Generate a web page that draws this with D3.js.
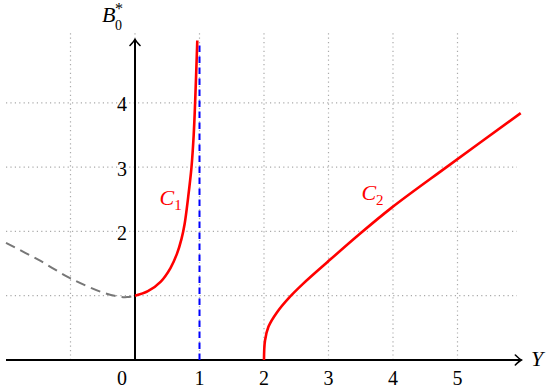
<!DOCTYPE html>
<html>
<head>
<meta charset="utf-8">
<script src="https://cdn.jsdelivr.net/npm/d3@7"></script>
<style>
  html, body { margin: 0; padding: 0; background: #fff; }
  svg { display: block; }
  text { font-family: "Liberation Serif", "Times New Roman", serif; }
</style>
</head>
<body>
<svg id="chart" width="550" height="388"></svg>
<script>
// values
var curveC1 = [[0, 1], [0.2, 1.07], [0.4, 1.22], [0.55, 1.43], [0.65, 1.65], [0.72, 1.88],
               [0.77, 2.12], [0.824, 2.53], [0.876, 3.0], [0.91, 3.5], [0.932, 4.0], [0.966, 4.97]];
var curveC2 = [[2, 0], [2.015, 0.3], [2.07, 0.52], [2.2, 0.74], [2.39, 0.97], [2.6, 1.18],
               [2.98, 1.52], [3.46, 1.94], [3.98, 2.37], [4.83, 3.0], [5.98, 3.84]];
var curveDashed = [[-2, 1.82], [-1.5, 1.56], [-1.0, 1.27], [-0.5, 1.05], [-0.25, 0.985], [-0.12, 0.978], [0, 1.0]];
var asymptoteX = 1;
var asymptoteTop = 4.96;
var gridX = [-1, 0, 1, 2, 3, 4, 5];
var gridY = [1, 2, 3, 4];
var xTicks = [0, 1, 2, 3, 4, 5];
var yTicks = [2, 3, 4];
var labelC1 = [0.38, 2.41];
var labelC2 = [3.51, 2.49];

var svg = d3.select('#chart');

var x = d3.scaleLinear().domain([-2, 6]).range([6, 522]);
var y = d3.scaleLinear().domain([0, 5]).range([360, 38.5]);

// arrow head
svg.append('defs').append('marker')
    .attr('id', 'arrow')
    .attr('viewBox', '-8 -6 10 12')
    .attr('refX', 0).attr('refY', 0)
    .attr('markerWidth', 10).attr('markerHeight', 12)
    .attr('markerUnits', 'userSpaceOnUse')
    .attr('orient', 'auto')
  .append('path')
    .attr('d', 'M-6,-5 Q-2,-1 0,0 Q-2,1 -6,5')
    .attr('fill', 'none')
    .attr('stroke', '#000')
    .attr('stroke-width', 1.6)
    .attr('stroke-linecap', 'round');

// grid
var grid = svg.append('g')
    .attr('stroke', '#aaa')
    .attr('stroke-width', 1.2)
    .attr('stroke-dasharray', '1.2,3.2');

grid.selectAll('line.gx').data(gridX).enter().append('line')
    .attr('class', 'gx')
    .attr('x1', function(d){ return x(d); }).attr('x2', function(d){ return x(d); })
    .attr('y1', y(0)).attr('y2', y(5.08));

grid.selectAll('line.gy').data(gridY).enter().append('line')
    .attr('class', 'gy')
    .attr('x1', x(-2)).attr('x2', x(5.92))
    .attr('y1', function(d){ return y(d); }).attr('y2', function(d){ return y(d); });

// axes
svg.append('line')
    .attr('x1', x(-2)).attr('x2', x(5.99))
    .attr('y1', y(0)).attr('y2', y(0))
    .attr('stroke', '#000').attr('stroke-width', 2)
    .attr('marker-end', 'url(#arrow)');

svg.append('line')
    .attr('x1', x(0)).attr('x2', x(0))
    .attr('y1', y(0)).attr('y2', y(4.985))
    .attr('stroke', '#000').attr('stroke-width', 2)
    .attr('marker-end', 'url(#arrow)');

// tick labels
svg.selectAll('text.xt').data(xTicks).enter().append('text')
    .attr('class', 'xt')
    .attr('x', function(d){ return d === 0 ? x(d) - 8 : x(d); })
    .attr('y', 385)
    .attr('text-anchor', function(d){ return d === 0 ? 'end' : 'middle'; })
    .attr('font-size', 20)
    .text(function(d){ return d; });

svg.selectAll('text.yt').data(yTicks).enter().append('text')
    .attr('class', 'yt')
    .attr('x', x(0) - 8)
    .attr('y', function(d){ return y(d) + 8.5; })
    .attr('text-anchor', 'end')
    .attr('font-size', 20)
    .text(function(d){ return d; });

// axis titles
svg.append('text')
    .attr('x', 531).attr('y', 366)
    .attr('font-size', 22).attr('font-style', 'italic')
    .text('Y');

svg.append('text')
    .attr('x', 102).attr('y', 22)
    .attr('font-size', 22).attr('font-style', 'italic')
    .text('B');
svg.append('text')
    .attr('x', 115).attr('y', 30)
    .attr('font-size', 14)
    .text('0');
svg.append('text')
    .attr('x', 115).attr('y', 13.5)
    .attr('font-size', 16)
    .text('*');

// curves
var line = d3.line()
    .x(function(d){ return x(d[0]); })
    .y(function(d){ return y(d[1]); })
    .curve(d3.curveCatmullRom.alpha(0.5));

svg.append('path')
    .datum(curveDashed)
    .attr('d', line)
    .attr('fill', 'none')
    .attr('stroke', '#777')
    .attr('stroke-width', 2)
    .attr('stroke-dasharray', '10,6');

svg.append('line')
    .attr('x1', x(asymptoteX)).attr('x2', x(asymptoteX))
    .attr('y1', y(0)).attr('y2', y(asymptoteTop))
    .attr('stroke', '#0000ff')
    .attr('stroke-width', 2)
    .attr('stroke-dasharray', '6.5,4.5');

svg.append('path')
    .datum(curveC1)
    .attr('d', line)
    .attr('fill', 'none')
    .attr('stroke', '#ff0000')
    .attr('stroke-width', 2.6);

svg.append('path')
    .datum(curveC2)
    .attr('d', line)
    .attr('fill', 'none')
    .attr('stroke', '#ff0000')
    .attr('stroke-width', 2.6);

// curve labels
[[labelC1, '1'], [labelC2, '2']].forEach(function(l){
    var t = svg.append('text')
        .attr('x', x(l[0][0])).attr('y', y(l[0][1]))
        .attr('font-size', 22)
        .attr('fill', '#ff0000');
    t.append('tspan').attr('font-style', 'italic').text('C');
    t.append('tspan').attr('font-size', 15).attr('dy', 5).text(l[1]);
});
</script>
</body>
</html>
